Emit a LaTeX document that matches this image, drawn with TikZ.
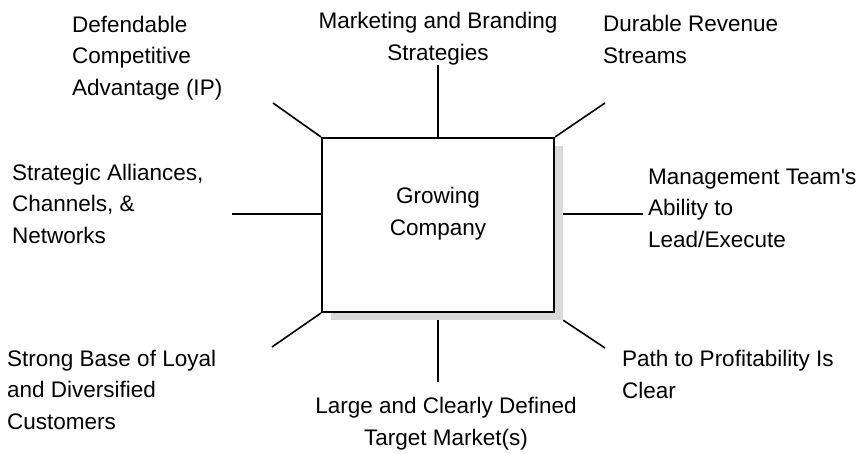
\documentclass[tikz,border=0pt]{standalone}
\usepackage{fontspec}
\setmainfont{Liberation Sans}
\definecolor{shadowgray}{HTML}{D9D9D9}
\tikzset{
  factor/.style={inner sep=0pt, align=left, anchor=base west, font=\fontsize{22.5}{31.5}\selectfont},
  spoke/.style={line width=1.6pt}
}
\begin{document}
\begin{tikzpicture}[x=1pt, y=-1pt]
			\useasboundingbox (0,0) rectangle (867,453);
			% the company box and its shadow
			\node [fill=shadowgray, minimum width=232pt, minimum height=174pt, inner sep=0pt] (shadow) at (447,233) {};
			\node [draw, line width=2pt, fill=white, minimum width=232pt, minimum height=174pt, inner sep=0pt] (company) at (438,225) {};
			\node [factor, align=center, anchor=base] (companyname) at (438,235) {Growing\\Company};
			% factors round the box (placed at the baseline of their last line)
			\node [factor] (ip) at (72,95) {Defendable\\Competitive\\Advantage (IP)};
			\node [factor, align=center, anchor=base] (marketing) at (438,60) {Marketing and Branding\\Strategies};
			\node [factor] (revenue) at (603,63) {Durable Revenue\\Streams};
			\node [factor] (alliances) at (12,243) {Strategic Alliances,\\Channels, \&\\Networks};
			\node [factor] (management) at (648,247) {Management Team\textquotesingle s\\Ability to\\Lead/Execute};
			\node [factor] (customers) at (7,429) {Strong Base of Loyal\\and Diversified\\Customers};
			\node [factor, align=center, anchor=base] (market) at (446,445) {Large and Clearly Defined\\Target Market(s)};
			\node [factor] (profit) at (622,398) {Path to Profitability Is\\Clear};
			% free ends of the spokes
			\coordinate (topend) at (438,65);
			\coordinate (topleftend) at (273,103);
			\coordinate (toprightend) at (605,103);
			\coordinate (leftend) at (232,214);
			\coordinate (rightend) at (643,214);
			\coordinate (bottomend) at (438,382);
			\coordinate (bottomleftend) at (272,347);
			\coordinate (bottomrightend) at (605,348);
			\draw [spoke] (company.north) -- (topend);
			\draw [spoke] (company.north west) -- (topleftend);
			\draw [spoke] (company.north east) -- (toprightend);
			\draw [spoke] (leftend -| company.west) -- (leftend);
			\draw [spoke] (rightend -| shadow.east) -- (rightend);
			\draw [spoke] (bottomend |- shadow.south) -- (bottomend);
			\draw [spoke] (company.south west) -- (bottomleftend);
			\draw [spoke] (shadow.south east) -- (bottomrightend);
		\end{tikzpicture}
\end{document}
